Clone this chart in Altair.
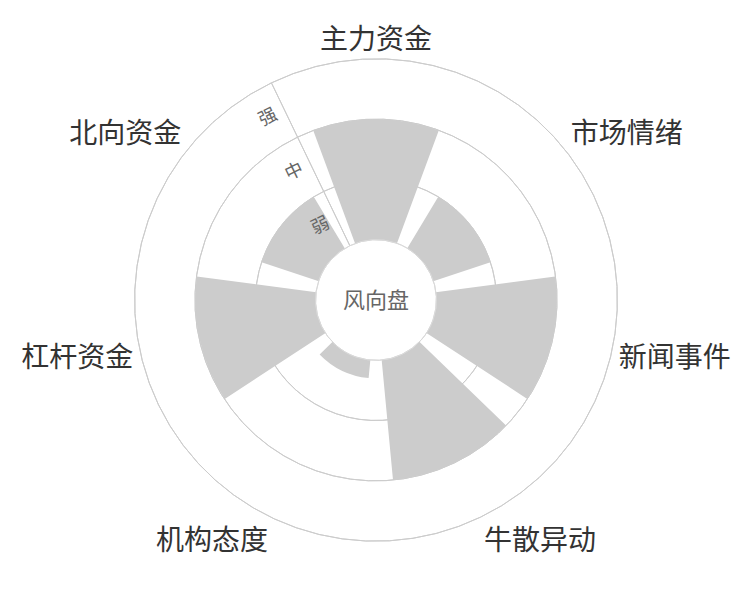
import math
import altair as alt
import pandas as pd

# ---- data ----
categories = ["主力资金", "市场情绪", "新闻事件", "牛散异动", "机构态度", "杠杆资金", "北向资金"]
values = [2.0, 1.0, 2.0, 2.0, 0.3, 2.0, 1.0]
levels = [1, 2, 3]
level_names = ["弱", "中", "强"]
center_text = "风向盘"

n = len(categories)
FONT = "Noto Sans CJK SC"
GRID = "#cccccc"
BAR = "#cccccc"

theta_scale = alt.Scale(type="linear", domain=[-0.5, n - 0.5],
                        range=[-math.pi / n, 2 * math.pi - math.pi / n])
radius_scale = alt.Scale(type="linear", domain=[-1, 3], range=[0, 241])

bar_df = pd.DataFrame({"category": categories, "idx": list(range(n)), "value": values})
level_df = pd.DataFrame({"level": levels, "name": level_names})
ring_df = pd.DataFrame({"inner": [0], "outer": [3]})

full = dict(start="-0.5", end=f"{n} - 0.5")

grid = alt.Chart(level_df).transform_calculate(**full).mark_arc(
    fillOpacity=0, stroke=GRID, strokeWidth=1
).encode(
    theta=alt.Theta("start:Q", scale=theta_scale, stack=False),
    theta2="end:Q",
    radius=alt.Radius("level:Q", scale=radius_scale),
    radius2="level:Q",
)

axis_line = alt.Chart(ring_df).transform_calculate(**full).mark_arc(
    fillOpacity=0, stroke=GRID, strokeWidth=1
).encode(
    theta=alt.Theta("start:Q", scale=theta_scale, stack=False),
    theta2="start:Q",
    radius=alt.Radius("outer:Q", scale=radius_scale),
    radius2="inner:Q",
)

bars = alt.Chart(bar_df).transform_calculate(
    t0="datum.idx - 0.395", t1="datum.idx + 0.395", base="0"
).mark_arc(color=BAR).encode(
    theta=alt.Theta("t0:Q", scale=theta_scale, stack=False),
    theta2="t1:Q",
    radius=alt.Radius("value:Q", scale=radius_scale),
    radius2="base:Q",
    tooltip=["category:N", "value:Q"],
)

hole = alt.Chart(ring_df).transform_calculate(**full).mark_arc(
    fill="white", stroke="#d9d9d9", strokeWidth=1
).encode(
    theta=alt.Theta("start:Q", scale=theta_scale, stack=False),
    theta2="end:Q",
    radius=alt.Radius("inner:Q", scale=radius_scale),
)

center = alt.Chart(ring_df).mark_text(
    font=FONT, fontSize=22, color="#666666", dy=1
).encode(text=alt.value(center_text))

level_labels = alt.Chart(level_df).transform_calculate(
    mid="datum.level - 0.5", start="-0.5"
).mark_text(
    angle=360 - 180 / n, dx=-18, align="center", baseline="middle",
    font=FONT, fontSize=18, color="#666666"
).encode(
    theta=alt.Theta("start:Q", scale=theta_scale, stack=False),
    radius=alt.Radius("mid:Q", scale=radius_scale),
    text="name:N",
)

groups = {}
for i in range(n):
    a = 2 * math.pi * i / n
    s, c = math.sin(a), math.cos(a)
    align = "center" if abs(s) < 0.1 else ("left" if s > 0 else "right")
    baseline = "middle" if abs(c) < 0.3 else ("bottom" if c > 0 else "top")
    groups.setdefault((align, baseline), []).append(i)

cat_layers = []
for (align, baseline), idxs in groups.items():
    cat_layers.append(
        alt.Chart(bar_df).transform_filter(
            alt.FieldOneOfPredicate(field="idx", oneOf=idxs)
        ).transform_calculate(outer="3").mark_text(
            align=align, baseline=baseline, radiusOffset=8, dy=4,
            font=FONT, fontSize=28, color="#333333"
        ).encode(
            theta=alt.Theta("idx:Q", scale=theta_scale, stack=False),
            radius=alt.Radius("outer:Q", scale=radius_scale),
            text="category:N",
        )
    )

chart = alt.layer(grid, axis_line, bars, hole, center, level_labels, *cat_layers).properties(
    width=732,
    height=584,
    autosize=alt.AutoSizeParams(type="none"),
    padding={"left": 2, "top": 0, "right": 0, "bottom": 0},
).configure_view(stroke=None)

chart.save("out.html", embed_options={"renderer": "svg", "actions": False})
